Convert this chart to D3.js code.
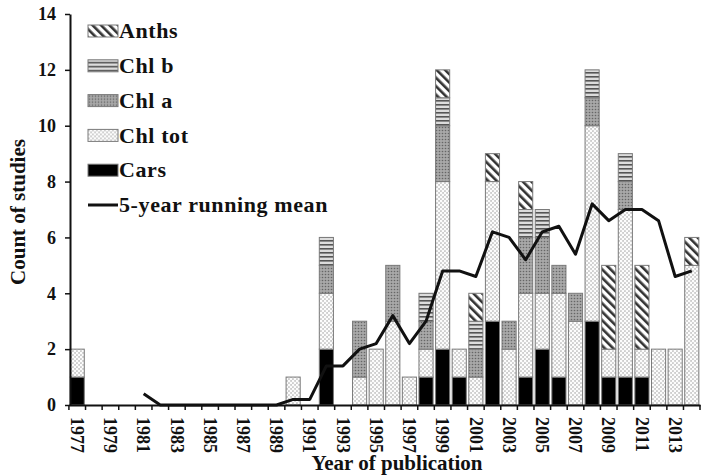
<!DOCTYPE html>
<html>
<head>
<meta charset="utf-8">
<script src="https://cdn.jsdelivr.net/npm/d3@7"></script>
<style>
  body { margin: 0; background: #fff; }
  text { font-family: "Liberation Serif", "Times New Roman", serif; font-weight: bold; fill: #111; }
</style>
</head>
<body>
<div id="chart"></div>
<script>
// Data
const years = d3.range(1977, 2015).map(String);
const cars   = [1,0,0,0,0,0,0,0,0,0,0,0,0,0,0,2,0,0,0,0,0,1,2,1,0,3,0,1,2,1,0,3,1,1,1,0,0,0];
const chlTot = [1,0,0,0,0,0,0,0,0,0,0,0,0,1,0,2,0,1,2,3,1,1,6,1,1,5,2,3,2,3,3,7,1,6,1,2,2,5];
const chlA   = [0,0,0,0,0,0,0,0,0,0,0,0,0,0,0,1,0,2,0,2,0,1,2,0,1,0,1,2,2,1,1,1,0,1,0,0,0,0];
const chlB   = [0,0,0,0,0,0,0,0,0,0,0,0,0,0,0,1,0,0,0,0,0,1,1,0,1,0,0,1,1,0,0,1,0,1,0,0,0,0];
const anths  = [0,0,0,0,0,0,0,0,0,0,0,0,0,0,0,0,0,0,0,0,0,0,1,0,1,1,0,1,0,0,0,0,3,0,3,0,0,1];
const runMean = [null,null,null,null,0.4,0,0,0,0,0,0,0,0,0.2,0.2,1.4,1.4,2.0,2.2,3.2,2.2,3.0,4.8,4.8,4.6,6.2,6.0,5.2,6.2,6.4,5.4,7.2,6.6,7.0,7.0,6.6,4.6,4.8];
const yTicks = [0, 2, 4, 6, 8, 10, 12, 14];

const seriesKeys = ["Cars", "Chl tot", "Chl a", "Chl b", "Anths"];
const table = years.map((y, i) => ({
  year: y, "Cars": cars[i], "Chl tot": chlTot[i], "Chl a": chlA[i], "Chl b": chlB[i], "Anths": anths[i]
}));

const W = 712, H = 476;
const margin = { left: 69, right: 700, top: 14, bottom: 405 };

const svg = d3.select("#chart").append("svg")
  .attr("width", W).attr("height", H);

// Patterns
const defs = svg.append("defs");
const pTot = defs.append("pattern").attr("id", "p-tot").attr("patternUnits", "userSpaceOnUse")
  .attr("width", 4).attr("height", 4);
pTot.append("rect").attr("width", 4).attr("height", 4).attr("fill", "#cdcdcd");
pTot.append("circle").attr("cx", 1).attr("cy", 1).attr("r", 1.3).attr("fill", "#fcfcfc");
pTot.append("circle").attr("cx", 3).attr("cy", 3).attr("r", 1.3).attr("fill", "#fcfcfc");

const pA = defs.append("pattern").attr("id", "p-a").attr("patternUnits", "userSpaceOnUse")
  .attr("width", 3).attr("height", 3);
pA.append("rect").attr("width", 3).attr("height", 3).attr("fill", "#a8a8a8");
pA.append("circle").attr("cx", 1.5).attr("cy", 1.5).attr("r", 0.8).attr("fill", "#666");

const pB = defs.append("pattern").attr("id", "p-b").attr("patternUnits", "userSpaceOnUse")
  .attr("width", 4).attr("height", 4);
pB.append("rect").attr("width", 4).attr("height", 4).attr("fill", "#dcdcdc");
pB.append("rect").attr("y", 0).attr("width", 4).attr("height", 1.6).attr("fill", "#555");

const pAn = defs.append("pattern").attr("id", "p-an").attr("patternUnits", "userSpaceOnUse")
  .attr("width", 6).attr("height", 6).attr("patternTransform", "rotate(-45)");
pAn.append("rect").attr("width", 6).attr("height", 6).attr("fill", "#fff");
pAn.append("rect").attr("width", 2.6).attr("height", 6).attr("fill", "#333");

const fills = { "Cars": "#000", "Chl tot": "url(#p-tot)", "Chl a": "url(#p-a)", "Chl b": "url(#p-b)", "Anths": "url(#p-an)" };

// Scales
const x = d3.scaleBand().domain(years).range([margin.left, margin.right]).paddingInner(0.15).paddingOuter(0.07);
const y = d3.scaleLinear().domain([0, 14]).range([margin.bottom, margin.top]);

// Bars
const stacked = d3.stack().keys(seriesKeys)(table);
svg.append("g").selectAll("g")
  .data(stacked)
  .join("g")
  .attr("fill", d => fills[d.key])
  .selectAll("rect")
  .data(d => d.filter(s => s[1] > s[0]))
  .join("rect")
  .attr("x", d => x(d.data.year))
  .attr("y", d => y(d[1]))
  .attr("width", x.bandwidth())
  .attr("height", d => y(d[0]) - y(d[1]))
  .attr("stroke", "#7a7a7a")
  .attr("stroke-width", 1);

// Running mean line
const line = d3.line()
  .defined(d => d.v !== null)
  .x(d => x(d.year) + x.bandwidth() / 2)
  .y(d => y(d.v));
svg.append("path")
  .datum(years.map((yr, i) => ({ year: yr, v: runMean[i] })))
  .attr("d", line)
  .attr("fill", "none")
  .attr("stroke", "#111")
  .attr("stroke-width", 3)
  .attr("stroke-linejoin", "round");

// Y axis
const yAxis = svg.append("g")
  .attr("transform", `translate(${margin.left + 1},0)`)
  .call(d3.axisLeft(y).tickValues(yTicks).tickSize(5).tickPadding(9).tickSizeOuter(0));
yAxis.attr("font-family", null);
yAxis.select(".domain").attr("stroke", "#111").attr("stroke-width", 2);
yAxis.selectAll(".tick line").attr("stroke", "#111").attr("stroke-width", 1.5);
yAxis.selectAll("text").style("font-size", "18px");

// X axis
const xAxis = svg.append("g")
  .attr("transform", `translate(0,${margin.bottom})`)
  .call(d3.axisBottom(x).tickSize(0).tickSizeOuter(0)
    .tickFormat(d => (+d % 2 === 1 ? d : "")));
xAxis.attr("font-family", null);
xAxis.select(".domain").attr("stroke", "#111").attr("stroke-width", 2);
xAxis.selectAll(".tick text")
  .attr("transform", "rotate(90)")
  .attr("x", 12).attr("y", 0).attr("dy", "0.35em")
  .style("text-anchor", "start")
  .style("font-size", "18px");

// boundary ticks between categories
const step = x.step();
const boundaries = years.map(yr => x(yr) - (step - x.bandwidth()) / 2).concat([margin.right]);
svg.append("g").selectAll("line")
  .data(boundaries)
  .join("line")
  .attr("x1", d => d).attr("x2", d => d)
  .attr("y1", margin.bottom).attr("y2", margin.bottom + 5)
  .attr("stroke", "#111").attr("stroke-width", 1.5);

// Axis titles
svg.append("text")
  .attr("x", 397).attr("y", 470)
  .attr("text-anchor", "middle")
  .style("font-size", "21px")
  .text("Year of publication");

svg.append("text")
  .attr("transform", "translate(25,212) rotate(-90)")
  .attr("text-anchor", "middle")
  .style("font-size", "21px")
  .text("Count of studies");

// Legend
const legendItems = [
  { key: "Anths", label: "Anths" },
  { key: "Chl b", label: "Chl b" },
  { key: "Chl a", label: "Chl a" },
  { key: "Chl tot", label: "Chl tot" },
  { key: "Cars", label: "Cars" },
  { key: "line", label: "5-year running mean" }
];
const lg = svg.append("g").attr("transform", "translate(88,31)");
const li = lg.selectAll("g").data(legendItems).join("g")
  .attr("transform", (d, i) => `translate(0,${i * 34.8})`);
li.filter(d => d.key !== "line").append("rect")
  .attr("x", 0).attr("y", -6).attr("width", 30).attr("height", 12)
  .attr("fill", d => fills[d.key])
  .attr("stroke", "#7a7a7a").attr("stroke-width", 1);
li.filter(d => d.key === "line").append("line")
  .attr("x1", 0).attr("x2", 30).attr("y1", 0).attr("y2", 0)
  .attr("stroke", "#111").attr("stroke-width", 3);
li.append("text")
  .attr("x", 31).attr("y", 0).attr("dy", "0.33em")
  .style("font-size", "22px")
  .style("letter-spacing", "0.6px")
  .text(d => d.label);
</script>
</body>
</html>
